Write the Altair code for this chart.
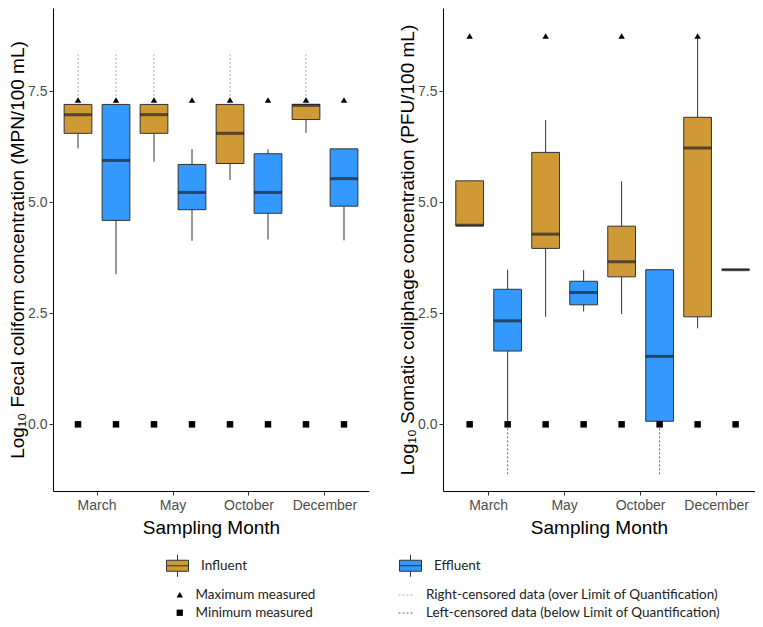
import altair as alt
import pandas as pd

months = ["March", "May", "October", "December"]
groups = ["Influent", "Effluent"]
point_kinds = ["Maximum measured", "Minimum measured"]
censor_kinds = ["Right-censored data (over Limit of Quantification)",
                "Left-censored data (below Limit of Quantification)"]

# Box order: March-Inf, March-Eff, May-Inf, May-Eff, Oct-Inf, Oct-Eff, Dec-Inf, Dec-Eff
box_month = ["March", "March", "May", "May", "October", "October", "December", "December"]
box_group = ["Influent", "Effluent", "Influent", "Effluent", "Influent", "Effluent", "Influent", "Effluent"]

# Fecal coliform (log10 MPN/100 mL)
fc_low = [6.21, 3.38, 5.91, 4.13, 5.50, 4.16, 6.56, 4.14]
fc_q1 = [6.55, 4.59, 6.55, 4.83, 5.87, 4.75, 6.86, 4.91]
fc_median = [6.97, 5.94, 6.97, 5.22, 6.55, 5.22, 7.18, 5.53]
fc_q3 = [7.20, 7.20, 7.20, 5.85, 7.20, 6.09, 7.20, 6.20]
fc_high = [7.20, 7.20, 7.20, 6.19, 7.20, 6.19, 7.20, 6.20]
fc_max = [7.30, 7.30, 7.30, 7.30, 7.30, 7.30, 7.30, 7.30]
fc_min = [0.0, 0.0, 0.0, 0.0, 0.0, 0.0, 0.0, 0.0]
fc_cens_month = ["March", "March", "May", "October", "December"]
fc_cens_group = ["Influent", "Effluent", "Influent", "Influent", "Influent"]
fc_cens_from = [7.30, 7.30, 7.30, 7.30, 7.30]
fc_cens_to = [8.39, 8.39, 8.39, 8.39, 8.39]

# Somatic coliphage (log10 PFU/100 mL)
sc_low = [4.47, 0.00, 2.42, 2.54, 2.48, 0.07, 2.16, 3.48]
sc_q1 = [4.47, 1.65, 3.96, 2.69, 3.32, 0.07, 2.42, 3.48]
sc_median = [4.48, 2.33, 4.28, 2.97, 3.66, 1.53, 6.22, 3.48]
sc_q3 = [5.48, 3.04, 6.12, 3.22, 4.46, 3.48, 6.91, 3.48]
sc_high = [5.48, 3.48, 6.85, 3.47, 5.47, 3.48, 8.74, 3.48]
sc_max_month = ["March", "May", "October", "December"]
sc_max_group = ["Influent", "Influent", "Influent", "Influent"]
sc_max = [8.74, 8.74, 8.74, 8.74]
sc_min = [0.0, 0.0, 0.0, 0.0, 0.0, 0.0, 0.0, 0.0]
sc_cens_month = ["March", "October"]
sc_cens_group = ["Effluent", "Effluent"]
sc_cens_from = [0.0, 0.0]
sc_cens_to = [-1.17, -1.17]

GOLD = "#CF9A36"
BLUE = "#3399FF"
BOX_GLYPH = "M-1,-0.5H1V0.5H-1Z M-1,0H1 M0,-0.5V-1 M0,0.5V1"
LEG_FONT = "Lato"
LEG_SIZE = 13.5


def boxes_df(low, q1, med, q3, high):
    return pd.DataFrame({"month": box_month, "group": box_group, "low": low,
                         "q1": q1, "median": med, "q3": q3, "high": high})


def points_df(mx_month, mx_group, mx, mn):
    a = pd.DataFrame({"month": mx_month, "group": mx_group, "value": mx,
                      "kind": point_kinds[0]})
    b = pd.DataFrame({"month": box_month, "group": box_group, "value": mn,
                      "kind": point_kinds[1]})
    return pd.concat([a, b], ignore_index=True)


def cens_df(month, group, start, end, kind):
    return pd.DataFrame({"month": month, "group": group, "start": start,
                         "end": end, "kind": kind})


fc_boxes = boxes_df(fc_low, fc_q1, fc_median, fc_q3, fc_high)
fc_points = points_df(box_month, box_group, fc_max, fc_min)
fc_cens = cens_df(fc_cens_month, fc_cens_group, fc_cens_from, fc_cens_to, censor_kinds[0])

sc_boxes = boxes_df(sc_low, sc_q1, sc_median, sc_q3, sc_high)
sc_points = points_df(sc_max_month, sc_max_group, sc_max, sc_min)
sc_cens = cens_df(sc_cens_month, sc_cens_group, sc_cens_from, sc_cens_to, censor_kinds[1])


def panel(boxes, points, cens, ytitle, width, pad_outer, align):
    x = alt.X("month:N", sort=months,
              scale=alt.Scale(domain=months, paddingInner=0, paddingOuter=pad_outer,
                              align=align),
              axis=alt.Axis(title="Sampling Month", labelAngle=0, titlePadding=6,
                            titleFontSize=19))
    xo = alt.XOffset("group:N", sort=groups,
                     scale=alt.Scale(domain=groups, paddingInner=0.27, paddingOuter=0.135))
    yscale = alt.Scale(domain=[-1.5, 9.37], nice=False, zero=False)
    yaxis = alt.Axis(title=ytitle, values=[0, 2.5, 5, 7.5], format=".1f",
                     titlePadding=0, titleFontSize=19, labelPadding=2)

    cens_layer = alt.Chart(cens).mark_rule(strokeDash=[2, 2], strokeWidth=1).encode(
        x=x, xOffset=xo,
        y=alt.Y("start:Q", scale=yscale, axis=yaxis),
        y2="end:Q",
        stroke=alt.Stroke("kind:N",
                          scale=alt.Scale(domain=censor_kinds, range=["#B0B0B0", "#666666"]),
                          legend=alt.Legend(title=None, orient="none",
                                            legendX=345, legendY=579,
                                            symbolType="stroke", symbolDash=[2, 2],
                                            symbolStrokeWidth=1, symbolSize=225,
                                            labelFont=LEG_FONT, labelFontSize=LEG_SIZE,
                                            labelColor="#222222", labelOffset=12,
                                            rowPadding=3, labelLimit=400)),
    )
    whisk = alt.Chart(boxes).mark_rule(color="#333333", strokeWidth=1).encode(
        x=x, xOffset=xo, y=alt.Y("low:Q", scale=yscale, axis=yaxis), y2="high:Q")
    box = alt.Chart(boxes).mark_bar(stroke="#333333", strokeWidth=1).encode(
        x=x, xOffset=xo,
        y=alt.Y("q1:Q", scale=yscale, axis=yaxis), y2="q3:Q",
        color=alt.Color("group:N",
                        scale=alt.Scale(domain=groups, range=[GOLD, BLUE]),
                        legend=alt.Legend(title=None, orient="none", direction="horizontal",
                                          legendX=113, legendY=546,
                                          symbolType=BOX_GLYPH, symbolSize=484,
                                          symbolStrokeColor="#333333", symbolStrokeWidth=1,
                                          labelFont=LEG_FONT, labelFontSize=LEG_SIZE,
                                          labelColor="#222222", labelOffset=12,
                                          columnPadding=150)),
    )
    med = alt.Chart(boxes).mark_tick(color="#222222", thickness=3, size=28).encode(
        x=x, xOffset=xo, y=alt.Y("median:Q", scale=yscale, axis=yaxis))
    pts = alt.Chart(points).mark_point(filled=True, color="black", opacity=1, size=42).encode(
        x=x, xOffset=xo,
        y=alt.Y("value:Q", scale=yscale, axis=yaxis),
        shape=alt.Shape("kind:N",
                        scale=alt.Scale(domain=point_kinds, range=["triangle-up", "square"]),
                        legend=alt.Legend(title=None, orient="none",
                                          legendX=120, legendY=580,
                                          symbolSize=40, symbolFillColor="black",
                                          symbolStrokeColor="black",
                                          labelFont=LEG_FONT, labelFontSize=LEG_SIZE,
                                          labelColor="#222222", labelOffset=9,
                                          rowPadding=3)),
    )
    return alt.layer(cens_layer, whisk, box, med, pts).properties(width=width, height=483)


left = panel(fc_boxes, fc_points, fc_cens,
             "Log₁₀ Fecal coliform concentration (MPN/100 mL)", 316, 0.079, 0.5)
right = panel(sc_boxes, sc_points, sc_cens,
              "Log₁₀ Somatic coliphage concentration (PFU/100 mL)", 312, 0.053, 0.95)

chart = alt.hconcat(left, right, spacing=29).properties(
    padding={"left": 0, "top": 0, "right": 0, "bottom": 0}
).configure_view(stroke=None).configure_axis(
    grid=False, domainColor="black", domainWidth=1, tickColor="#333333", tickSize=4,
    labelColor="#4D4D4D", labelFontSize=14, labelFont="Liberation Sans",
    titleFont="Liberation Sans", titleFontWeight="normal",
    titleColor="black", labelPadding=3,
)

chart.save("out.html", embed_options={"renderer": "svg", "actions": False})
